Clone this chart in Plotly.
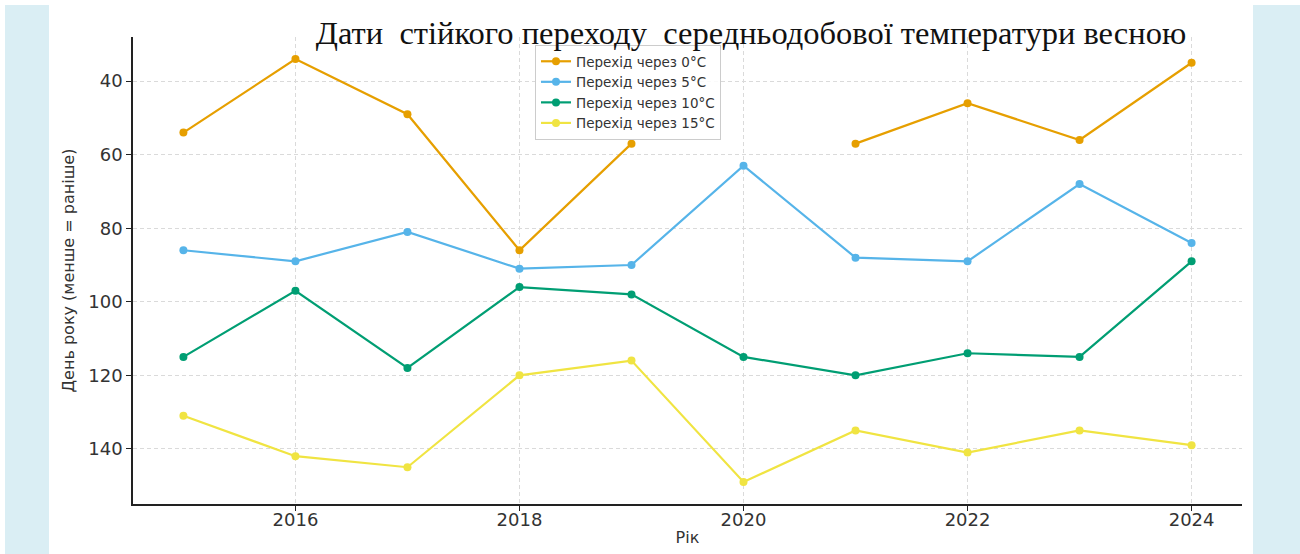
import plotly.graph_objects as go

# Дані
roky = [2015, 2016, 2017, 2018, 2019, 2020, 2021, 2022, 2023, 2024]
perehid_0 = [54, 34, 49, 86, 57, None, 57, 46, 56, 35]
perehid_5 = [86, 89, 81, 91, 90, 63, 88, 89, 68, 84]
perehid_10 = [115, 97, 118, 96, 98, 115, 120, 114, 115, 89]
perehid_15 = [131, 142, 145, 120, 116, 149, 135, 141, 135, 139]

nazvy = ["Перехід через 0°C", "Перехід через 5°C", "Перехід через 10°C", "Перехід через 15°C"]
KOLORY = ["#E69F00", "#56B4E9", "#009E73", "#F0E442"]

W, H = 1300, 554
L, R, T, B = 133, 1242, 37, 504


def px_x(p):
    return (p - L) / (R - L)


def px_y(p):
    return (B - p) / (B - T)


fig = go.Figure()
for seria, nazva, kolir in zip([perehid_0, perehid_5, perehid_10, perehid_15], nazvy, KOLORY):
    fig.add_trace(go.Scatter(
        x=roky, y=seria, name=nazva, mode="lines+markers",
        line=dict(color=kolir, width=2.2),
        marker=dict(color=kolir, size=8),
        connectgaps=False
    ))

# фон: білий центр, блакитні смуги по боках
smugy = [(5, 49), (1253, 1300)]
for x0, x1 in smugy:
    fig.add_shape(type="rect", xref="paper", yref="paper", layer="below",
                  x0=px_x(x0), x1=px_x(x1), y0=px_y(554), y1=px_y(5),
                  fillcolor="#DAEEF4", line=dict(width=0))

osi = dict(
    automargin=False,
    showline=True, linecolor="#222222", linewidth=1.5,
    ticks="outside", ticklen=5, tickcolor="#222222",
    showgrid=True, gridcolor="#dadada", griddash="4px,3px", gridwidth=1,
    zeroline=False,
    tickfont=dict(family="DejaVu Sans", size=18, color="#333333"),
)

fig.update_layout(
    width=W, height=H,
    paper_bgcolor="white", plot_bgcolor="rgba(0,0,0,0)",
    margin=dict(l=L, r=W - R, t=T, b=H - B),
    title=dict(
        text="Дати\u00a0 стійкого переходу\u00a0 середньодобової температури весною",
        font=dict(family="Liberation Serif", size=32.5, color="#111111"),
        x=px_x(751), xref="paper", xanchor="center",
        y=1 - 33 / H, yref="container", yanchor="middle"
    ),
    xaxis=dict(osi, range=[2014.55, 2024.45], dtick=2, tick0=2016, ticklabelstandoff=-6,
               title=dict(text="Рік", font=dict(family="DejaVu Sans", size=16, color="#333333"),
                          standoff=2)),
    yaxis=dict(osi, range=[155, 28], tickvals=[40, 60, 80, 100, 120, 140],
               title=dict(text="День року (менше = раніше)",
                          font=dict(family="DejaVu Sans", size=16, color="#333333"), standoff=10)),
    legend=dict(
        x=px_x(535), y=px_y(45), xanchor="left", yanchor="top",
        bgcolor="rgba(255,255,255,0.85)", bordercolor="#cccccc", borderwidth=1,
        font=dict(family="DejaVu Sans", size=13.5, color="#333333"),
        itemwidth=30, tracegroupgap=0
    ),
    showlegend=True,
)

# прибрати стандартний відступ сторінки
fig.write_html("out.html", config={"displayModeBar": False},
               post_script="document.body.style.margin='0';")
